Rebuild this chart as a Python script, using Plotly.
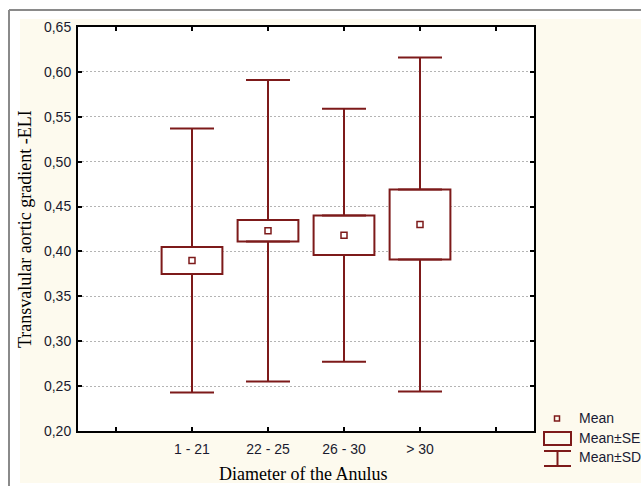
import plotly.graph_objects as go

# ---- data ----
categories = ["1 - 21", "22 - 25", "26 - 30", "> 30"]
means = [0.390, 0.423, 0.418, 0.430]
se = [0.015, 0.012, 0.022, 0.039]
sd = [0.147, 0.168, 0.141, 0.186]
y_ticks = [0.20, 0.25, 0.30, 0.35, 0.40, 0.45, 0.50, 0.55, 0.60, 0.65]

RED = "#7d1a1a"
W, H = 641, 486
L, R, T, B = 78, 534, 27, 431  # plot area in px


def px(x):
    return (x - L) / (R - L)


def py(y):
    return (B - y) / (B - T)


pos = list(range(1, len(categories) + 1))
se_lo = [m - s for m, s in zip(means, se)]
se_hi = [m + s for m, s in zip(means, se)]
up_len = [d - s for d, s in zip(sd, se)]
zeros = [0] * len(categories)

fig = go.Figure()

# Mean ± SE boxes
fig.add_trace(go.Bar(
    x=pos, y=[2 * s for s in se], base=se_lo, width=0.8,
    marker=dict(color="white", line=dict(color=RED, width=2)),
    showlegend=False, hoverinfo="skip"))

# upper whisker (SE top -> SD top)
fig.add_trace(go.Scatter(
    x=pos, y=se_hi, mode="markers", marker=dict(size=1, color="rgba(0,0,0,0)"),
    error_y=dict(type="data", symmetric=False, array=up_len, arrayminus=zeros,
                 color=RED, thickness=2, width=22),
    showlegend=False, hoverinfo="skip"))
# lower whisker (SD bottom -> SE bottom)
fig.add_trace(go.Scatter(
    x=pos, y=se_lo, mode="markers", marker=dict(size=1, color="rgba(0,0,0,0)"),
    error_y=dict(type="data", symmetric=False, array=zeros, arrayminus=up_len,
                 color=RED, thickness=2, width=22),
    showlegend=False, hoverinfo="skip"))

# mean markers
fig.add_trace(go.Scatter(
    x=pos, y=means, mode="markers",
    marker=dict(symbol="square-open", size=6, color=RED, line=dict(width=1.5, color=RED)),
    showlegend=False))

shapes = [
    # cream background
    dict(type="rect", xref="paper", yref="paper", x0=px(20), x1=px(645), y0=py(483), y1=py(19),
         fillcolor="#fdfaee", line=dict(width=0), layer="below"),
    # white plot area
    dict(type="rect", xref="paper", yref="paper", x0=0, x1=1, y0=0, y1=1,
         fillcolor="white", line=dict(width=0), layer="below"),
    # gray frame
    dict(type="line", xref="paper", yref="paper", x0=px(9), x1=px(645), y0=py(10), y1=py(10),
         line=dict(color="#8a8a8a", width=2)),
    dict(type="line", xref="paper", yref="paper", x0=px(9), x1=px(9), y0=py(10), y1=py(490),
         line=dict(color="#8a8a8a", width=2)),
    # legend: mean marker
    dict(type="rect", xref="paper", yref="paper", x0=px(554.5), x1=px(559.5), y0=py(421), y1=py(416),
         line=dict(color=RED, width=1.5)),
    # legend: SE box
    dict(type="rect", xref="paper", yref="paper", x0=px(544), x1=px(571), y0=py(445), y1=py(432),
         line=dict(color=RED, width=2)),
    # legend: SD I-beam
    dict(type="line", xref="paper", yref="paper", x0=px(544), x1=px(571), y0=py(451), y1=py(451),
         line=dict(color=RED, width=2)),
    dict(type="line", xref="paper", yref="paper", x0=px(544), x1=px(571), y0=py(466), y1=py(466),
         line=dict(color=RED, width=2)),
    dict(type="line", xref="paper", yref="paper", x0=px(557.5), x1=px(557.5), y0=py(451), y1=py(466),
         line=dict(color=RED, width=2)),
]

legend_font = dict(family="Liberation Sans, Arial", size=14, color="#1a1a33")
title_font = dict(family="Liberation Serif, Times New Roman", size=18, color="#000000")
annotations = [
    dict(text="Mean", x=px(577), y=py(418), xref="paper", yref="paper",
         xanchor="left", yanchor="middle", showarrow=False, font=legend_font),
    dict(text="Mean±SE", x=px(577), y=py(438), xref="paper", yref="paper",
         xanchor="left", yanchor="middle", showarrow=False, font=legend_font),
    dict(text="Mean±SD", x=px(577), y=py(457), xref="paper", yref="paper",
         xanchor="left", yanchor="middle", showarrow=False, font=legend_font),
    dict(text="Transvalular aortic gradient -ELI", x=px(25), y=py(229), xref="paper", yref="paper",
         xanchor="center", yanchor="middle", textangle=-90, showarrow=False, font=title_font),
    dict(text="Diameter of the Anulus", x=px(303), y=py(474), xref="paper", yref="paper",
         xanchor="center", yanchor="middle", showarrow=False, font=title_font),
]

tick_font = dict(family="Liberation Sans, Arial", size=14, color="#1a1a2e")

fig.update_layout(
    width=W, height=H,
    margin=dict(l=L, r=W - R, t=T, b=H - B, pad=0),
    paper_bgcolor="white", plot_bgcolor="white",
    separators=", ",
    showlegend=False,
    barmode="overlay",
    shapes=shapes, annotations=annotations,
    xaxis=dict(
        range=[-0.5, len(categories) + 1.5],
        tickvals=list(range(0, len(categories) + 2)),
        ticktext=[""] + categories + [""],
        ticks="inside", ticklen=4, tickwidth=1.5, tickcolor="black",
        showline=True, linecolor="black", linewidth=2, mirror="ticks",
        showgrid=False, zeroline=False, tickfont=tick_font, ticklabelstandoff=4,
    ),
    yaxis=dict(
        range=[y_ticks[0], y_ticks[-1]],
        tickvals=y_ticks, tickformat=".2f",
        ticks="inside", ticklen=4, tickwidth=1.5, tickcolor="black",
        showline=True, linecolor="black", linewidth=2, mirror="ticks",
        showgrid=True, gridcolor="#b4b4b4", gridwidth=1, griddash="2px,2px",
        zeroline=False, tickfont=tick_font, ticklabelstandoff=2,
    ),
)

fig.write_html(
    "out.html",
    config={"displayModeBar": False},
    post_script="document.body.style.margin='0';document.body.style.overflow='hidden';",
)
